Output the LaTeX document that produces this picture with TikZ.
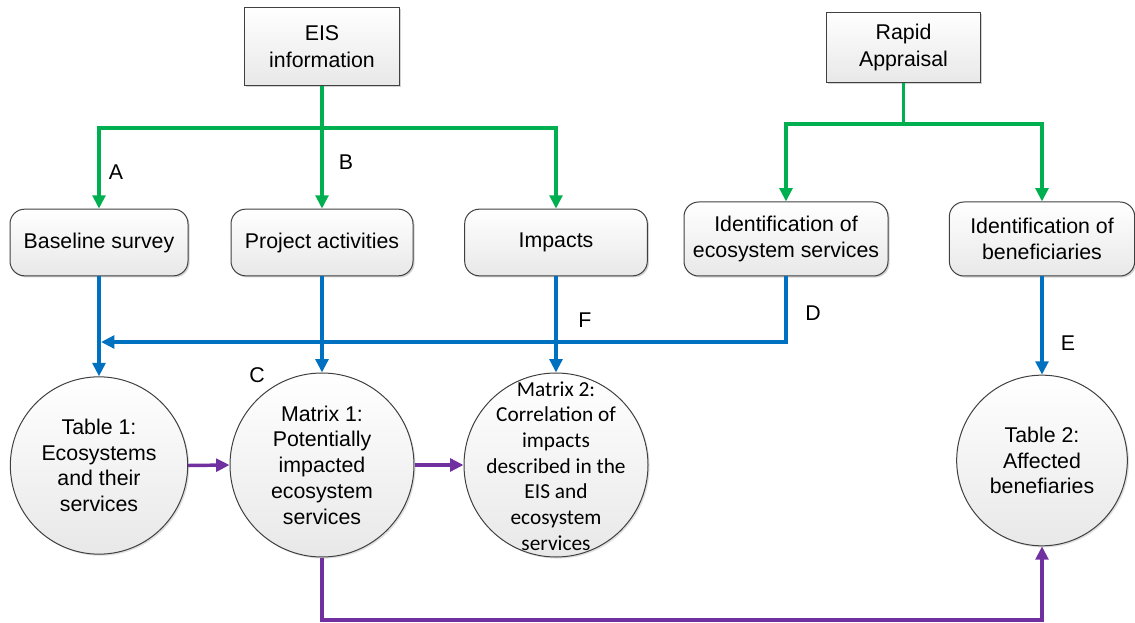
\documentclass[tikz,border=0pt]{standalone}
\usepackage{fontspec}
\setmainfont{Liberation Sans}
\newfontfamily\calib{Carlito}
\usetikzlibrary{arrows.meta,shadows}
\definecolor{cgreen}{RGB}{0,176,80}
\definecolor{cblue}{RGB}{0,112,192}
\definecolor{cpurple}{RGB}{112,48,160}
\definecolor{cborder}{RGB}{64,64,64}
\tikzset{
  basefont/.style={font=\fontsize{16pt}{20pt}\selectfont},
  sqbox/.style={draw=cborder, line width=0.75pt, top color=white, bottom color=gray!18,
    basefont, align=center, inner sep=0pt,
    drop shadow={shadow xshift=1.2pt, shadow yshift=-1.2pt, opacity=0.35}},
  rbox/.style={sqbox, rounded corners=11pt},
  bigcirc/.style={circle, draw=cborder, line width=0.75pt, top color=white, bottom color=gray!18,
    inner sep=0pt, drop shadow={shadow xshift=1.2pt, shadow yshift=-1.2pt, opacity=0.25}},
  ctext/.style={align=center, font=\fontsize{16pt}{19.3pt}\selectfont},
  conn/.style={line width=2.6pt, -{Triangle[length=10pt,width=9.5pt]}},
  plain/.style={line width=2.6pt},
  garrow/.style={conn, cgreen},
  gline/.style={plain, cgreen},
  barrow/.style={conn, cblue},
  bline/.style={plain, cblue},
  parrow/.style={conn, cpurple},
  lbl/.style={basefont, inner sep=0pt},
}
\begin{document}
\begin{tikzpicture}[x=0.75pt,y=-0.75pt]
\useasboundingbox (0,0) rectangle (1135,623);

% top boxes
\node[sqbox, minimum width=116pt, minimum height=59pt] (eis) at (322,46.5) {EIS\\information};
\node[sqbox, minimum width=116pt, minimum height=53pt] (rapid) at (903.5,47.5) {Rapid\\Appraisal};

% middle rounded boxes
\node[rbox, minimum width=133.5pt, minimum height=50pt] (base) at (99,242.5) {Baseline survey};
\node[rbox, minimum width=136.5pt, minimum height=50pt] (proj) at (322,242.5) {Project activities};
\node[rbox, minimum width=137pt, minimum height=50pt] (imp) at (556,242.5) {Impacts};
\node[rbox, minimum width=153pt, minimum height=55.5pt] (ideco) at (786,239) {Identification of\\ecosystem services};
\node[rbox, minimum width=139pt, minimum height=55.5pt] (idben) at (1042,239) {Identification of\\beneficiaries};

% circles
\node[bigcirc, minimum size=133pt] (t1) at (99,465.5) {};
\node[ctext] (t1t) at (t1) {Table 1:\\Ecosystems\\and their\\services};
\node[bigcirc, minimum size=138pt] (m1) at (322,465) {};
\node[ctext] (m1t) at (m1) {Matrix 1:\\Potentially\\impacted\\ecosystem\\services};
\node[bigcirc, minimum size=138pt] (m2) at (556,465) {};
\node[ctext, font=\calib\fontsize{16pt}{19.3pt}\selectfont] (m2t) at (556,466) {Matrix 2:\\Correlation of\\impacts\\described in the\\EIS and\\ecosystem\\services};
\node[bigcirc, minimum size=128pt] (t2) at (1042,460.5) {};
\node[ctext] (t2t) at (t2) {Table 2:\\Affected\\benefiaries};

% green connectors
\coordinate (g1) at (322,128);
\draw[gline] (eis.south) -- (g1);
\draw[garrow] (g1) -| (base.north);
\draw[garrow] (g1) -- (proj.north);
\draw[garrow] (g1) -| (imp.north);
\coordinate (g2) at (903.5,124);
\draw[gline] (rapid.south) -- (g2);
\draw[garrow] (g2) -| (ideco.north);
\draw[garrow] (g2) -| (idben.north);

% blue connectors
\coordinate (bl) at (101,342);
\draw[barrow] (ideco.south) |- (bl);
\draw[barrow] (base.south) -- (t1.north);
\draw[barrow] (proj.south) -- (m1.north);
\draw[barrow] (imp.south) -- (m2.north);
\draw[barrow] (idben.south) -- (t2.north);
\fill[cblue] (322,342) circle (3);
\fill[cblue] (556,342) circle (3);

% purple connectors
\draw[parrow] (t1.east) -- (m1.west);
\draw[parrow] (m1.east) -- (m2.west);
\coordinate (pb) at (322,620);
\draw[parrow] (m1.south) -- (pb) -| (t2.south);

% labels
\node[lbl] (la) at (116,172) {A};
\node[lbl] (lb) at (346,162) {B};
\node[lbl] (lc) at (257,375) {C};
\node[lbl] (ld) at (813,313) {D};
\node[lbl] (le) at (1068,343) {E};
\node[lbl] (lf) at (585,320) {F};
\end{tikzpicture}
\end{document}
